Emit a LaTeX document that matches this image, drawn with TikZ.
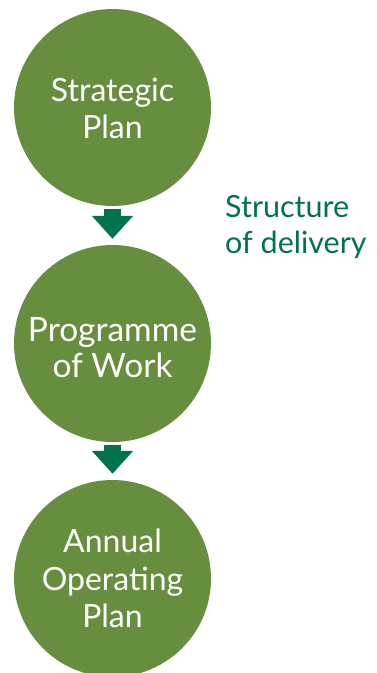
\documentclass[tikz,border=0pt]{standalone}
\usepackage{fontspec}
\setmainfont{Lato}
\usetikzlibrary{arrows.meta,calc}
\definecolor{circgreen}{RGB}{103,142,62}
\definecolor{darkgreen}{RGB}{0,115,74}
\begin{document}
\begin{tikzpicture}[x=1pt,y=-1pt,
  circ/.style={circle,fill=circgreen,draw=none,minimum size=197pt,inner sep=0pt},
  ctext/.style={text=white,align=center,inner sep=0pt,font=\fontsize{32}{37.5}\selectfont},
  arr/.style={draw=darkgreen,line width=17pt,-{Triangle[length=23pt,width=40pt]}},
  side/.style={text=darkgreen,align=left,inner sep=0pt,font=\fontsize{30.5}{36.6}\selectfont}]
\useasboundingbox (0,0) rectangle (376,673);
\node[circ] (c1) at (112.5,107.5) {};
\node[circ] (c2) at (112.5,343.5) {};
\node[circ] (c3) at (112.5,578.5) {};
\node[ctext] (t1) at ($(c1)+(0,1)$) {Strategic\\Plan};
\node[ctext,font=\fontsize{33.5}{36}\selectfont] (t2) at ($(c2)+(0,4)$) {Programme\\of Work};
\node[ctext] (t3) at ($(c3)+(0,0)$) {Annual\\Operating\\Plan};
\draw[arr,shorten <=3pt,shorten >=6pt] (c1.south) -- (c2.north);
\draw[arr,shorten <=2.5pt,shorten >=6pt] (c2.south) -- (c3.north);
\node[side,anchor=north west] (s) at (225,195) {Structure\\of delivery};
\end{tikzpicture}
\end{document}
